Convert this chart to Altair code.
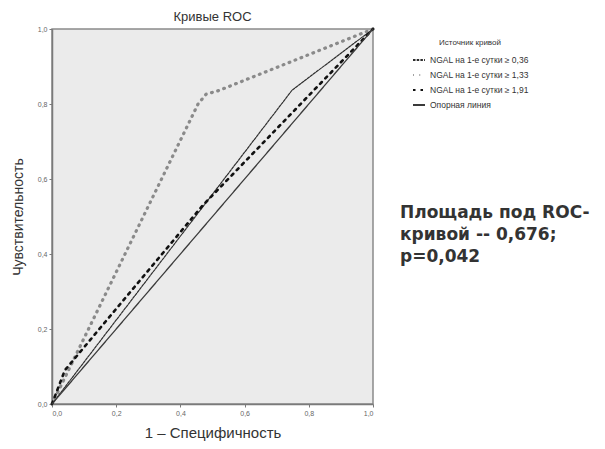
import altair as alt
import pandas as pd

# Series data (1 - specificity, sensitivity)
series_names = [
    "NGAL на 1-е сутки ≥ 0,36",
    "NGAL на 1-е сутки ≥ 1,33",
    "NGAL на 1-е сутки ≥ 1,91",
    "Опорная линия",
]
x_036 = [0.0, 0.748, 1.0]
y_036 = [0.0, 0.837, 1.0]
x_133 = [0.0, 0.455, 0.48, 0.52, 1.0]
y_133 = [0.0, 0.800, 0.826, 0.836, 1.0]
x_191 = [0.0, 0.04, 0.47, 1.0]
y_191 = [0.0, 0.09, 0.53, 1.0]
x_ref = [0.0, 1.0]
y_ref = [0.0, 1.0]

tick_values = [0.0, 0.2, 0.4, 0.6, 0.8, 1.0]
annotation = "Площадь под ROC-\nкривой -- 0,676;\np=0,042"

series_x = [x_036, x_133, x_191, x_ref]
series_y = [y_036, y_133, y_191, y_ref]
widths = [1.2, 3.2, 2.6, 1.3]

colors = ["#2e2e2e", "#8a8a8a", "#111111", "#3a3a3a"]
dashes = [[2.5, 1.2], [0.8, 5.6], [2.5, 5.0], [1, 0]]

label_expr = "replace(format(datum.value, '.1f'), '.', ',')"
legend = alt.Legend(title="Источник кривой", orient="none", legendX=360, legendY=10)

layers = []
for name, xs, ys, w in zip(series_names, series_x, series_y, widths):
    d = pd.DataFrame({"series": name, "fpr": xs, "tpr": ys, "order": list(range(len(xs)))})
    layers.append(
        alt.Chart(d).mark_line(strokeCap="round", strokeWidth=w, clip=False).encode(
            x=alt.X("fpr:Q", scale=alt.Scale(domain=[0, 1], nice=False),
                    axis=alt.Axis(values=tick_values, labelExpr=label_expr,
                                  title="1 – Специфичность", grid=False)),
            y=alt.Y("tpr:Q", scale=alt.Scale(domain=[0, 1], nice=False),
                    axis=alt.Axis(values=tick_values, labelExpr=label_expr,
                                  title="Чувствительность", grid=False)),
            order="order:Q",
            color=alt.Color("series:N", scale=alt.Scale(domain=series_names, range=colors),
                            legend=legend),
            strokeDash=alt.StrokeDash("series:N", scale=alt.Scale(domain=series_names, range=dashes),
                                      legend=legend),
        )
    )

note = alt.Chart(pd.DataFrame({"t": [annotation]})).mark_text(
    align="left", baseline="top", lineBreak="\n", fontSize=17, fontWeight="bold",
    font="DejaVu Sans", color="#333333", lineHeight=22, clip=False,
).encode(text="t:N", x=alt.value(348), y=alt.value(176))

chart = alt.layer(*layers, note).properties(
    width=321, height=375,
    title=alt.TitleParams("Кривые ROC", fontSize=13, font="Arial", fontWeight="normal",
                          color="#333333", anchor="middle", offset=-1),
    autosize=alt.AutoSizeParams(type="none"),
    padding={"left": 44, "top": 21, "right": 224, "bottom": 37},
).configure_view(
    fill="#ebebeb", stroke="#8a8a8a", strokeWidth=1.5,
).configure_axis(
    labelFontSize=7, labelColor="#666666", labelFont="Arial",
    titleFont="Arial", titleFontWeight="normal", titleColor="#333333",
    domainColor="#7a7a7a", domainWidth=1.5, tickColor="#7a7a7a", tickSize=3,
).configure_axisX(
    titleFontSize=15, titlePadding=9, labelPadding=2,
).configure_axisY(
    titleFontSize=14, titlePadding=12, labelPadding=2,
).configure_legend(
    titleFontSize=8, titleFontWeight="normal", titleColor="#333333", titleFont="Arial",
    labelFontSize=8.5, labelColor="#333333", labelFont="Arial",
    symbolType="stroke", symbolSize=144, symbolStrokeWidth=2, rowPadding=3, titlePadding=6,
    titleAnchor="middle",
)

chart.save("out.html", embed_options={"renderer": "svg", "actions": False})
